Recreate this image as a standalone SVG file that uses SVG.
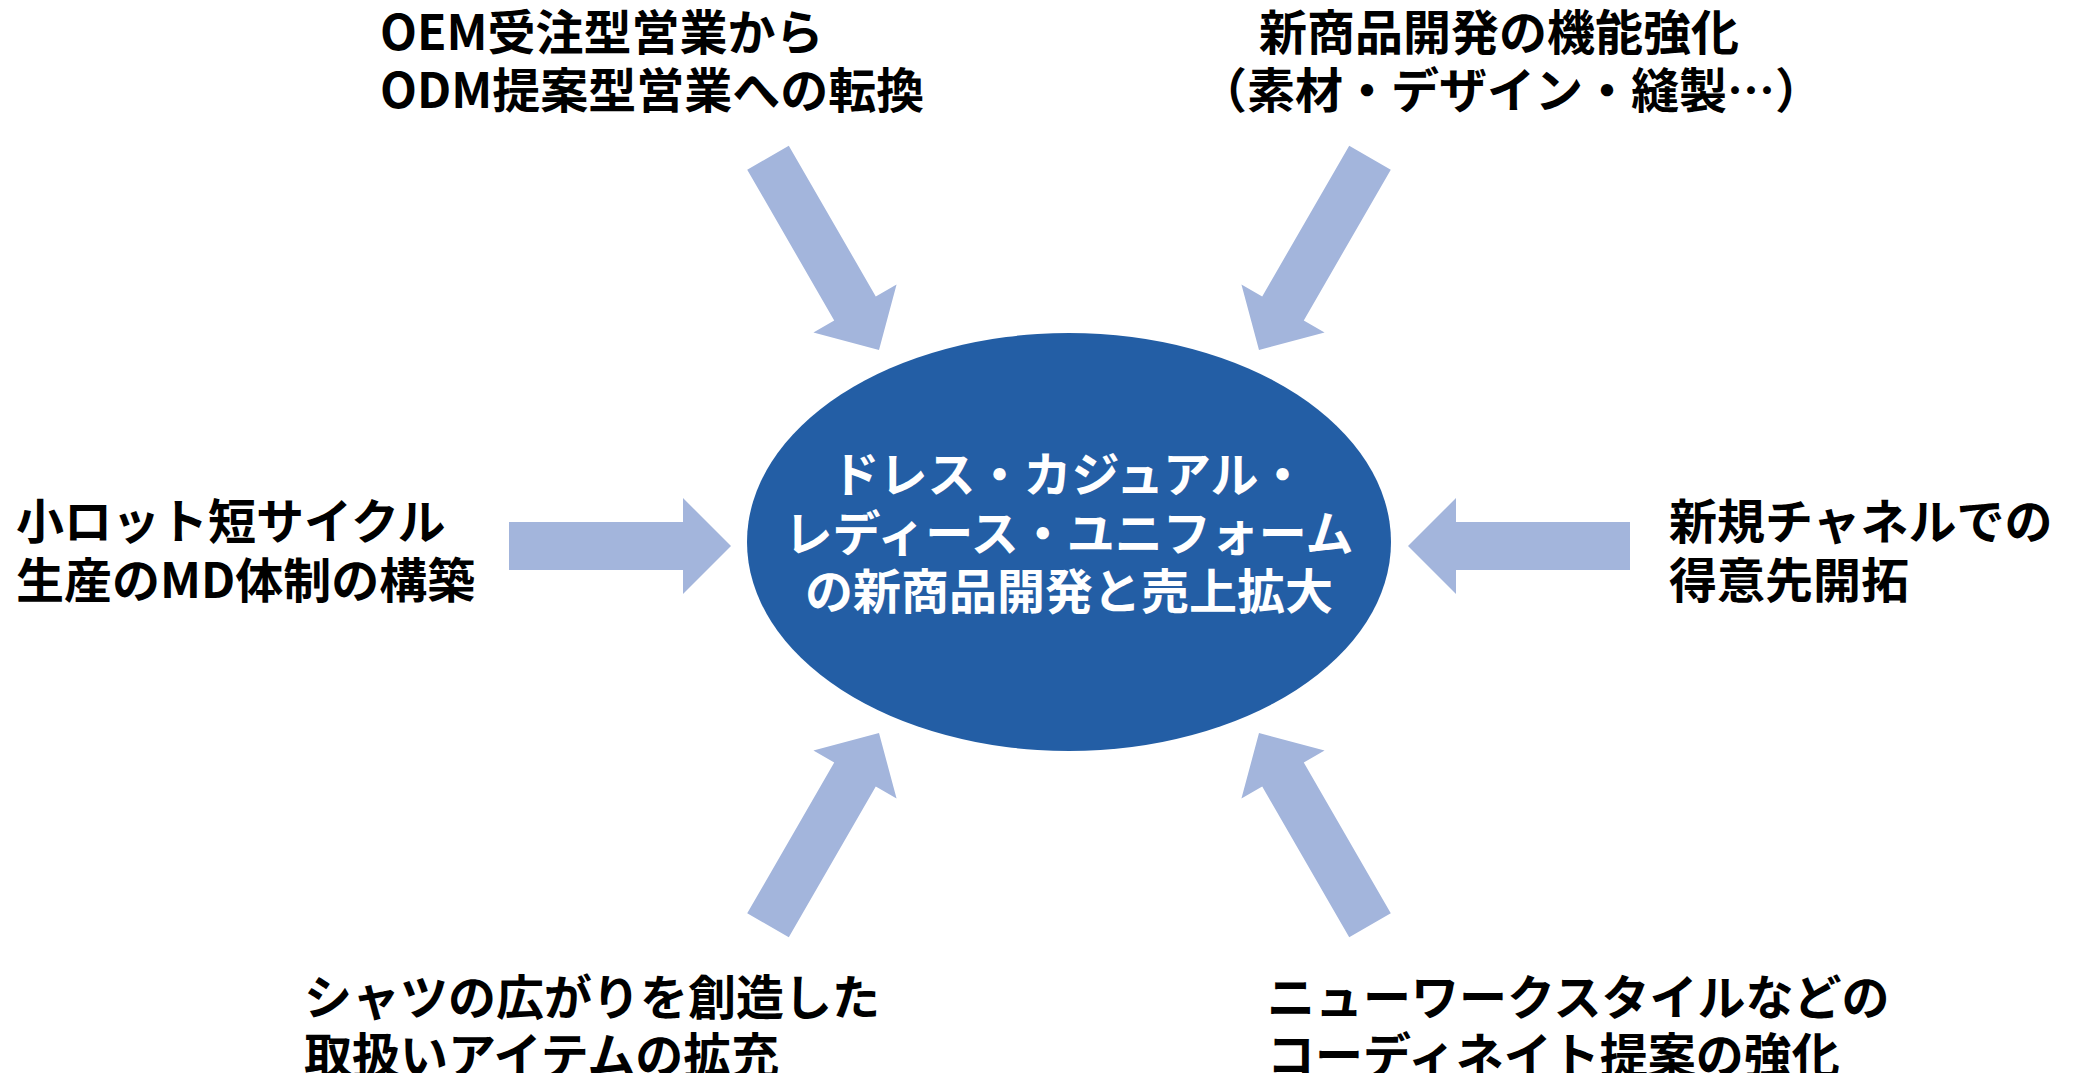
<svg xmlns="http://www.w3.org/2000/svg" width="2074" height="1073" viewBox="0 0 2074 1073">
<style>
.t{font-family:"Noto Sans CJK JP","Noto Sans",sans-serif;font-weight:700;font-size:48px;fill:#000}
.w{font-family:"Noto Sans CJK JP","Noto Sans",sans-serif;font-weight:700;font-size:48px;fill:#fff;text-anchor:middle}
.arr{fill:#A3B5DC}
</style>
<defs>
<path id="arrow" d="M-222,-24 L-48,-24 L-48,-48 L0,0 L-48,48 L-48,24 L-222,24 Z"/>
</defs>
<rect width="2074" height="1073" fill="#fff"/>
<g id="connectors" class="arr">
<use href="#arrow" transform="translate(879,350) rotate(60)"/>
<use href="#arrow" transform="translate(1259,350) rotate(120)"/>
<use href="#arrow" transform="translate(731,546)"/>
<use href="#arrow" transform="translate(1408,546) rotate(180)"/>
<use href="#arrow" transform="translate(879,733) rotate(-60)"/>
<use href="#arrow" transform="translate(1259,733) rotate(-120)"/>
</g>
<g id="center">
<ellipse cx="1069" cy="542" rx="322" ry="209" fill="#235EA5"/>
<text class="w" x="1069" y="492">ドレス・カジュアル・</text>
<text class="w" x="1069" y="551">レディース・ユニフォーム</text>
<text class="w" x="1069" y="609">の新商品開発と売上拡大</text>
</g>
<g id="node-odm">
<text class="t" x="380" y="50">OEM受注型営業から</text>
<text class="t" x="380" y="108">ODM提案型営業への転換</text>
</g>
<g id="node-newproduct">
<text class="t" x="1259" y="50">新商品開発の機能強化</text>
<text class="t" x="1199" y="108">（素材・デザイン・縫製…）</text>
</g>
<g id="node-smalllot">
<text class="t" x="16" y="539">小ロット短サイクル</text>
<text class="t" x="16" y="598">生産のMD体制の構築</text>
</g>
<g id="node-channel">
<text class="t" x="1669" y="539">新規チャネルでの</text>
<text class="t" x="1669" y="598">得意先開拓</text>
</g>
<g id="node-shirt">
<text class="t" x="304" y="1015">シャツの広がりを創造した</text>
<text class="t" x="304" y="1073">取扱いアイテムの拡充</text>
</g>
<g id="node-coordinate">
<text class="t" x="1267" y="1015">ニューワークスタイルなどの</text>
<text class="t" x="1267" y="1073">コーディネイト提案の強化</text>
</g>
</svg>
